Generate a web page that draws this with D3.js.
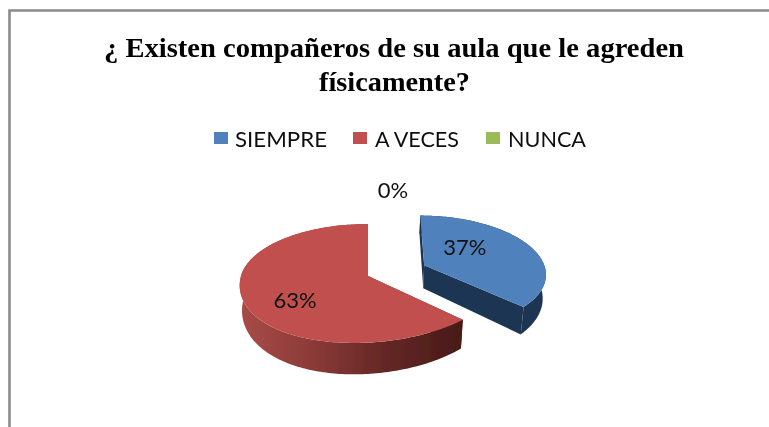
<!DOCTYPE html>
<html><head><meta charset="utf-8">
<script src="https://cdn.jsdelivr.net/npm/d3@7"></script>
<style>html,body{margin:0;padding:0;background:#fff}svg{display:block}</style>
</head><body><svg id="c" width="769" height="427"></svg>
<script>
const categories = ["SIEMPRE","A VECES","NUNCA"];
const values = [37,63,0];
const labels = ["37%","63%","0%"];
const topColors = ["#4F81BD","#C0504D","#9BBB59"];
const wallColors = ["#1F3552","#7A2E2C","#5F7536"];
const explode = [0.47,0,0];
const titleLines = ["¿ Existen compañeros de su aula que le agreden","físicamente?"];

const W=769,H=427;
const svg=d3.select("#c");
const defs=svg.append("defs");
defs.append("filter").attr("id","soft").attr("x","-5%").attr("y","-5%").attr("width","110%").attr("height","110%")
  .append("feGaussianBlur").attr("stdDeviation",0.4);
const g=svg.append("g").attr("filter","url(#soft)");
g.append("rect").attr("width",W).attr("height",H).attr("fill","#fff");

// frame
g.append("path").attr("d",d3.line()([[W+4,10.5],[9.5,10.5],[9.5,H+4]])).attr("fill","none").attr("stroke","#8a8a8a").attr("stroke-width",2.6);

// title
const titleSpan=[[104,684,57],[319,470,91]];
g.selectAll("text.t").data(titleLines).join("text").attr("class","t")
 .attr("x",(d,i)=>titleSpan[i][0]).attr("y",(d,i)=>titleSpan[i][2])
 .attr("textLength",(d,i)=>titleSpan[i][1]-titleSpan[i][0]).attr("lengthAdjust","spacingAndGlyphs")
 .attr("font-family","'Liberation Serif',serif").attr("font-weight","bold").attr("font-size",28).attr("fill","#000").text(d=>d);

// legend
const legX=[[214,235,327],[353,375,459],[486,508,586]];
const leg=g.selectAll("g.l").data(categories).join("g").attr("class","l");
leg.append("rect").attr("x",(d,i)=>legX[i][0]).attr("y",132).attr("width",14).attr("height",12).attr("fill",(d,i)=>topColors[i]);
leg.append("text").attr("x",(d,i)=>legX[i][1]).attr("y",147)
 .attr("textLength",(d,i)=>legX[i][2]-legX[i][1]).attr("lengthAdjust","spacingAndGlyphs")
 .attr("font-family","Lato,'Open Sans',sans-serif").attr("font-size",22).attr("fill","#111").text(d=>d);

// perspective pie
const X0=368,Y0=276,A=58.5,B=127,k=0.126,D=24;
const pie=d3.pie().sort(null).value(d=>d)(values);
let this_mid=0;
function proj(th,r,e,bottom){
  const u=e*Math.sin(this_mid)+r*Math.sin(th), v=e*Math.cos(this_mid)+r*Math.cos(th);
  const den=1+k*v, s=bottom?0.982:1;
  // small shear seen in the original's 3D projection
  const dx = e>0 ? 4-4*u+2*v : (v<0 ? -14*v*v : 0);
  return [X0+s*B*u/den+dx, Y0-A*v/den+(bottom?D/(den*den):0)];
}
const line=d3.line();
const redGrad=defs.append("linearGradient").attr("id","redWall").attr("gradientUnits","userSpaceOnUse")
  .attr("x1",240).attr("x2",462).attr("y1",0).attr("y2",0);
[[0,"#A84B48"],[0.3,"#8E3C39"],[0.6,"#6A2A28"],[1,"#471A18"]].forEach(s=>redGrad.append("stop").attr("offset",s[0]).attr("stop-color",s[1]));

function arc(a0,a1,e,bottom){
  const n=Math.max(2,Math.ceil((a1-a0)/0.02));
  return d3.range(n+1).map(i=>proj(a0+(a1-a0)*i/n,1,e,bottom));
}
[1,0].forEach(i=>{
  const p=pie[i],e=explode[i]; this_mid=(p.startAngle+p.endAngle)/2;
  const a0=p.startAngle,a1=p.endAngle;
  if(a1-a0<=0) return;
  const fill=i===1?"url(#redWall)":wallColors[i];
  const sl=g.append("g");
  [a0,a1].forEach(a=>{
    sl.append("path").attr("fill",i===1?"#471A18":wallColors[i]).attr("d",line([
      proj(0,0,e,false),proj(a,1,e,false),proj(a,1,e,true),proj(0,0,e,true)])+"Z");
  });
  sl.append("path").attr("fill",fill).attr("d",line(arc(a0,a1,e,false).concat(arc(a0,a1,e,true).reverse()))+"Z");
  sl.append("path").attr("fill",topColors[i]).attr("d",line([proj(0,0,e,false)].concat(arc(a0,a1,e,false)))+"Z");
});

// data labels: anchored on each slice's mid angle
const labelPlace=[[0.45,-7,-1],[0.6,0,18],[1,25,-26]];
pie.forEach((p,i)=>{
  this_mid=(p.startAngle+p.endAngle)/2;
  const c=proj(this_mid,labelPlace[i][0],explode[i],false);
  g.append("text").attr("x",c[0]+labelPlace[i][1]).attr("y",c[1]+labelPlace[i][2])
   .attr("text-anchor","middle").attr("font-family","Lato,'Open Sans',sans-serif").attr("font-size",22).attr("fill","#111").text(labels[i]);
});
</script></body></html>
